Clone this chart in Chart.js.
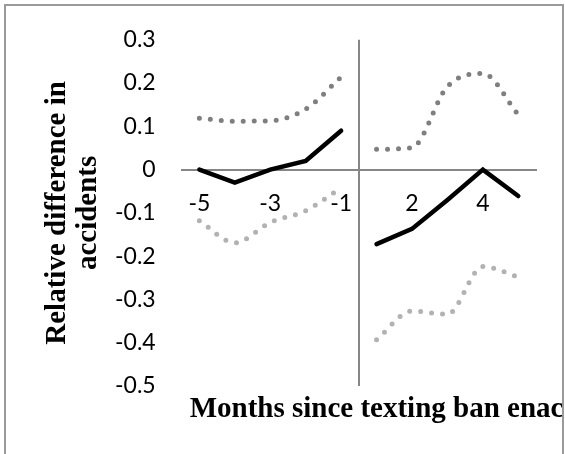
<!DOCTYPE html>
<html>
<head>
<meta charset="utf-8">
<script src="https://cdn.jsdelivr.net/npm/chart.js@4/dist/chart.umd.min.js"></script>
<style>
	html, body { margin: 0; padding: 0; background: #fff; overflow: hidden; }
	#chart { position: absolute; left: 0; top: 0; }
	#frame {
		position: absolute; left: 4px; top: 4px; width: 560px; height: 480px;
		box-sizing: border-box; border: 2px solid #9a9a9a; pointer-events: none;
	}
</style>
</head>
<body>
<canvas id="chart" width="562" height="454"></canvas>
<div id="frame"></div>
<script>
// Data
// ================================================================================
// months relative to the ban, there is no month 0
let months = [-5, -4, -3, -2, -1, 1, 2, 3, 4, 5];
let shown_ticks = ['-5', '-3', '-1', '2', '4'];

let estimate = [0, -0.03, 0, 0.02, 0.09, -0.172, -0.137, -0.07, 0, -0.061];
let upper_ci = [0.119, 0.112, 0.113, 0.14, 0.214, 0.047, 0.051, 0.192, 0.222, 0.127];
let lower_ci = [-0.118, -0.169, -0.122, -0.095, -0.042, -0.393, -0.327, -0.334, -0.224, -0.248];

let y_min = -0.5, y_max = 0.3, y_step = 0.1;
let x_title = 'Months since texting ban enacted';
let y_title = ['Relative difference in', 'accidents'];

// index of the first month after the ban
let ban_index = months.indexOf(1);

let before = (arr) => arr.map((v, i) => i < ban_index ? v : null);
let after = (arr) => arr.map((v, i) => i >= ban_index ? v : null);

// Styles
// ================================================================================
let solid = {
	borderColor: '#000',
	borderWidth: 4.5,
	borderCapStyle: 'round',
	borderJoinStyle: 'miter',
	tension: 0,
	pointRadius: 0
};
let dotted = (color) => ({
	borderColor: color,
	borderWidth: 5,
	borderCapStyle: 'round',
	borderDash: [0, 11],
	cubicInterpolationMode: 'monotone',
	pointRadius: 0
});

let datasets = [
	Object.assign({label: 'upper', data: before(upper_ci)}, dotted('#7f7f7f')),
	Object.assign({label: 'upper', data: after(upper_ci)}, dotted('#7f7f7f')),
	Object.assign({label: 'lower', data: before(lower_ci)}, dotted('#b2b2b2')),
	Object.assign({label: 'lower', data: after(lower_ci)}, dotted('#b2b2b2')),
	Object.assign({label: 'estimate', data: before(estimate)}, solid),
	Object.assign({label: 'estimate', data: after(estimate)}, solid)
];

// x title is drawn a bit right of the plot's left edge, and runs off the frame
let x_title_plugin = {
	id: 'xTitle',
	afterDraw(chart, args, opts) {
		let {ctx, chartArea} = chart;
		ctx.save();
		ctx.font = opts.font;
		ctx.fillStyle = opts.color;
		ctx.textBaseline = 'alphabetic';
		ctx.textAlign = 'left';
		ctx.fillText(opts.text, chartArea.left + opts.dx, chartArea.bottom + opts.dy);
		ctx.restore();
	}
};

let tick_font = {family: 'Lato, "Open Sans", sans-serif', size: 23};
let axis_color = '#868686';

let chart = new Chart(document.getElementById('chart'), {
	type: 'line',
	data: {
		labels: months.map(String),
		datasets: datasets
	},
	plugins: [x_title_plugin],
	options: {
		responsive: false,
		animation: false,
		spanGaps: false,
		layout: {padding: {left: 4, right: 26, top: 35, bottom: 68}},
		plugins: {
			legend: {display: false},
			tooltip: {enabled: false},
			xTitle: {
				text: x_title,
				font: 'bold 29px "Liberation Serif", "Times New Roman", serif',
				color: '#000',
				dx: 8,
				dy: 31
			}
		},
		scales: {
			x: {
				type: 'category',
				position: {y: 0},
				offset: true,
				// only the boundary line between month -1 and month 1 is shown,
				// it works as the vertical axis
				grid: {
					display: true,
					offset: true,
					drawTicks: false,
					lineWidth: 2,
					color: (ctx) => ctx.index === ban_index ? axis_color : 'rgba(0,0,0,0)'
				},
				border: {display: true, color: axis_color, width: 2},
				ticks: {
					autoSkip: false,
					maxRotation: 0,
					padding: 20,
					color: '#000',
					font: tick_font,
					callback: function(value) {
						let label = this.getLabelForValue(value);
						return shown_ticks.includes(label) ? label : '';
					}
				}
			},
			y: {
				position: 'left',
				min: y_min,
				max: y_max,
				grid: {display: false, drawTicks: false},
				border: {display: false},
				ticks: {stepSize: y_step, padding: 26, color: '#000', font: tick_font},
				title: {
					display: true,
					text: y_title,
					color: '#000',
					// bottom is negative: chart.js keeps twice the tick padding
					padding: {top: 38, bottom: -15},
					font: {family: '"Liberation Serif", "Times New Roman", serif', size: 29, weight: 'bold', lineHeight: '31px'}
				}
			}
		}
	}
});
</script>
</body>
</html>
